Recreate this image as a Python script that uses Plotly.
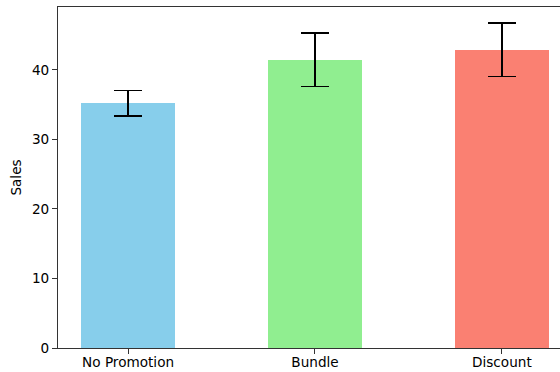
import plotly.graph_objects as go

categories = ["No Promotion", "Bundle", "Discount"]
sales = [35.2, 41.45, 42.9]
errors = [1.85, 3.85, 3.83]
colors = ["#87CEEB", "#90EE90", "#FA8072"]

fig = go.Figure()
fig.add_trace(go.Bar(
    x=list(range(len(categories))),
    y=sales,
    width=0.5,
    marker=dict(color=colors, line=dict(width=0)),
    error_y=dict(type="data", array=errors, visible=True, color="black", thickness=1.6, width=14),
))

fig.update_layout(
    width=560, height=372,
    margin=dict(l=58, r=0, t=7, b=24, autoexpand=False),
    plot_bgcolor="white", paper_bgcolor="white",
    font=dict(family="DejaVu Sans", size=13.6, color="black"),
    showlegend=False,
    bargap=0,
)
fig.update_xaxes(
    automargin=False,
    range=[-0.375, 2.311],
    tickmode="array", tickvals=[0, 1, 2], ticktext=categories,
    ticks="outside", ticklen=5, tickcolor="#333", tickwidth=1,
    ticklabelstandoff=-3,
    showline=True, linecolor="#333", linewidth=1, mirror=True,
    showgrid=False, zeroline=False,
)
fig.update_yaxes(
    automargin=False,
    range=[0, 49.06],
    tickmode="array", tickvals=[0, 10, 20, 30, 40],
    ticks="outside", ticklen=5, tickcolor="#333", tickwidth=1,
    showline=True, linecolor="#333", linewidth=1, mirror=False,
    showgrid=False, zeroline=False,
    title=dict(text="Sales", standoff=7, font=dict(size=13.6, color="black")),
)

fig.write_html("out.html", config={"displayModeBar": False},
               post_script="document.body.style.margin='0';document.body.style.overflow='hidden';")
